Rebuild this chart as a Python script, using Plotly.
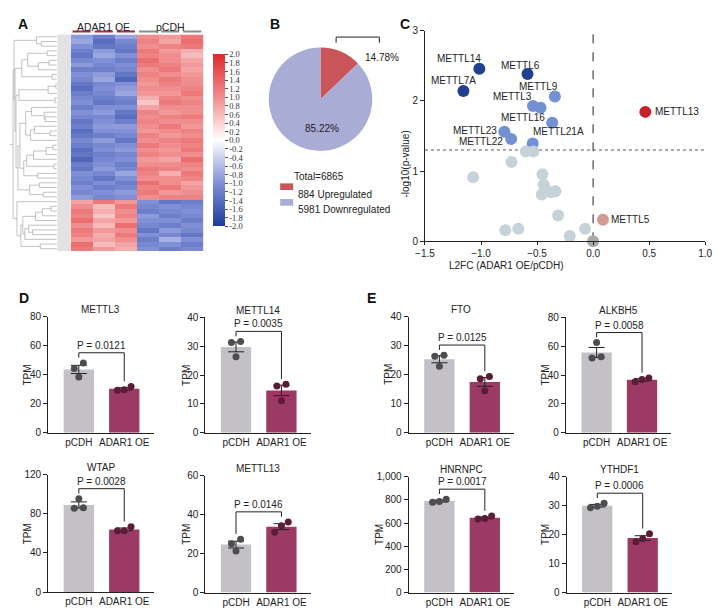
import numpy as np
import plotly.graph_objects as go

W, H = 720, 614
def px(x): return x / W
def py(y): return 1 - y / H

FONT = "Liberation Sans, Arial, sans-serif"
TXT = "#222222"

# ---------------- Panel A: heatmap data (z-scores) ----------------
heat_groups = ["ADAR1 OE", "pCDH"]
heat_up_block = [
    [-0.9, -1.2, -0.8, 1.0, 0.9, 1.2],
    [-0.8, -1.4, -1.1, 1.1, 0.8, 1.3],
    [-1.0, -1.3, -1.2, 1.0, 1.1, 1.2],
    [-1.2, -0.9, -1.3, 1.2, 0.9, 0.7],
    [-1.3, -0.8, -1.0, 1.1, 1.0, 0.6],
    [-1.1, -1.0, -1.2, 1.3, 1.0, 0.8],
    [-0.9, -1.1, -1.0, 1.2, 1.1, 0.9],
    [-1.2, -1.2, -1.1, 1.0, 1.2, 0.8],
    [-1.0, -0.9, -1.3, 1.1, 1.0, 0.9],
    [-1.1, -0.8, -1.5, 1.0, 1.2, 1.0],
    [-1.3, -1.1, -1.0, 0.9, 1.1, 1.0],
    [-1.4, -1.0, -0.9, 1.0, 1.0, 1.1],
    [-1.2, -1.1, -0.8, 0.9, 0.9, 1.2],
    [-1.1, -1.2, -1.1, 0.7, 1.1, 1.0],
    [-1.0, -1.3, -1.2, 0.5, 1.2, 1.1],
    [-1.2, -1.0, -1.0, 0.8, 1.0, 1.0],
    [-1.0, -0.9, -1.3, 1.1, 0.9, 1.0],
    [-1.1, -1.1, -1.4, 1.0, 1.1, 1.2],
    [-1.3, -1.0, -1.2, 1.1, 1.0, 1.0],
    [-1.2, -0.9, -0.9, 1.0, 1.2, 0.9],
    [-1.4, -1.0, -1.0, 0.9, 1.0, 1.1],
    [-1.3, -1.2, -1.1, 1.1, 0.9, 1.0],
    [-1.1, -0.9, -1.3, 1.0, 1.1, 1.2],
    [-1.2, -1.1, -1.0, 1.2, 1.0, 1.1],
    [-1.4, -1.0, -0.9, 1.0, 0.9, 1.2],
    [-1.3, -1.2, -1.1, 1.1, 1.0, 1.0],
    [-1.5, -1.1, -1.0, 0.9, 0.8, 1.3],
    [-1.2, -1.0, -1.2, 1.0, 1.0, 1.1],
    [-1.3, -0.9, -1.1, 1.2, 1.1, 1.0],
    [-1.0, -1.1, -0.8, 1.1, 0.7, 1.2],
    [-1.1, -1.3, -1.0, 1.0, 1.0, 1.1],
    [-1.2, -1.0, -1.2, 1.3, 1.0, 0.8],
    [-1.0, -1.2, -1.1, 1.1, 1.2, 0.9],
    [-1.1, -1.0, -0.9, 1.2, 0.9, 1.0],
    [-0.9, -1.1, -1.0, 1.0, 1.1, 1.1],
]
heat_down_block = [
    [0.8, 1.2, 0.9, -1.0, -1.3, -1.2],
    [1.0, 0.6, 1.2, -1.1, -1.0, -1.1],
    [1.2, 0.7, 1.0, -1.2, -1.1, -1.0],
    [1.1, 0.5, 1.1, -0.9, -1.2, -1.1],
    [1.3, 0.8, 0.9, -1.0, -1.0, -1.2],
    [1.0, 0.6, 1.3, -1.1, -1.2, -1.0],
    [1.2, 0.9, 1.0, -1.3, -0.9, -1.1],
    [1.1, 0.7, 1.2, -1.0, -1.1, -1.3],
    [0.9, 0.8, 1.0, -1.2, -0.7, -1.0],
    [1.3, 0.6, 0.8, -1.1, -1.0, -1.2],
    [1.2, 0.9, 0.7, -1.0, -1.2, -1.1],
]
cbar_tickvals = [2.0, 1.8, 1.6, 1.4, 1.2, 1.0, 0.8, 0.6, 0.4, 0.2, 0.0,
                 -0.2, -0.4, -0.6, -0.8, -1.0, -1.2, -1.4, -1.6, -1.8, -2.0]
cbar_ticktext = ["2.0", "1.8", "1.6", "1.4", "1.2", "1.0", "0.8", "0.6", "0.4", "0.2", "0.0",
                 "-0.2", "-0.4", "-0.6", "-0.8", "-1.0", "-1.2", "-1.4", "-1.6", "-1.8", "-2.0"]

# ---------------- Panel B: pie data ----------------
pie_labels = ["Upregulated", "Downregulated"]
pie_values = [884, 5981]
pie_pct_text = ["14.78%", "85.22%"]

# ---------------- Panel C: volcano data ----------------
volc_genes = ["METTL14", "METTL6", "METTL7A", "METTL9", "METTL3", "", "METTL16", "METTL23",
              "METTL22", "METTL21A", "", "", "", "", "", "", "", "", "", "", "", "", "", "", "",
              "METTL13", "METTL5"]
volc_l2fc = [-1.015, -0.585, -1.157, -0.341, -0.536, -0.469, -0.365, -0.792,
             -0.731, -0.539, -0.600, -0.533, -0.728, -1.070, -0.452, -0.440, -0.458,
             -0.376, -0.336, -0.312, -0.783, -0.667, -0.208, -0.071, 0.0,
             0.466, 0.088]
volc_nlogp = [2.456, 2.381, 2.140, 2.060, 1.926, 1.902, 1.688, 1.558,
              1.456, 1.391, 1.279, 1.279, 1.130, 0.912, 0.953, 0.805, 0.665,
              0.698, 0.712, 0.367, 0.158, 0.177, 0.074, 0.177, 0.0,
              1.842, 0.307]
volc_label_names = ["METTL14", "METTL6", "METTL7A", "METTL9", "METTL3", "METTL16",
                    "METTL23", "METTL22", "METTL21A", "METTL13", "METTL5"]
volc_label_x = [-1.195, -0.649, -1.247, -0.484, -0.722, -0.629, -1.056, -0.998, -0.310, 0.535, 0.146]
volc_label_y = [2.605, 2.502, 2.288, 2.209, 2.060, 1.767, 1.572, 1.419, 1.558, 1.842, 0.307]
volc_xticks = [-1.5, -1.0, -0.5, 0.0, 0.5, 1.0]
volc_yticks = [0, 1, 2, 3]
p_threshold = 1.3

# ---------------- Panels D/E: bar chart data (TPM) ----------------
bar_groups = ["pCDH", "ADAR1 OE"]
bar_genes = ["METTL3", "METTL14", "WTAP", "METTL13", "FTO", "ALKBH5", "HNRNPC", "YTHDF1"]
pcdh_tpm = [[48.1, 44.3, 38.4], [31.7, 31.3, 26.4], [95.5, 86.4, 85.8], [27.4, 25.1, 21.4],
            [26.7, 26.3, 22.9], [62.6, 52.8, 51.9], [805, 785, 778], [30.8, 29.3, 29.8]]
adar_tpm = [[31.9, 29.2, 29.6], [16.8, 16.2, 11.1], [67.0, 62.8, 62.8], [36.2, 34.3, 31.0],
            [19.4, 18.6, 14.5], [35.4, 38.1, 36.9], [660, 635, 640], [20.3, 18.6, 17.5]]
bar_pvals = ["0.0121", "0.0035", "0.0028", "0.0146", "0.0125", "0.0058", "0.0017", "0.0006"]
bar_ymax = [80, 40, 120, 60, 40, 80, 1000, 40]
bar_dtick = [20, 10, 40, 20, 10, 20, 200, 10]

# layout (pixel boxes) for bar subplots: x0, ytop, ybottom
bar_boxes = [(39, 316.7, 435.3), (200, 317.7, 435.3), (39, 478.3, 597.7), (200, 479, 598.3),
             (408.3, 316.7, 435.3), (569.3, 317.7, 435.3), (408.3, 480, 598.3), (570, 480, 598.3)]
bar_ytitle_x = [18.3, 180, 18.3, 180, 388.3, 548.3, 378.3, 548.3]
BAR_AX_W = 108

fig = go.Figure()
annotations = []
shapes = []
layout = {}

# ---------------- Panel A ----------------
heat_rows = heat_up_block + heat_down_block
Z = np.array(heat_rows, dtype=float)
nrow, ncol = Z.shape
colorscale = [[0.0, "#1d3b9c"], [0.25, "#8190d6"], [0.5, "#ffffff"], [0.75, "#f08d8e"], [1.0, "#e0282d"]]
fig.add_trace(go.Heatmap(
    z=Z, x=list(range(ncol)), y=list(range(nrow)), xaxis="x", yaxis="y",
    colorscale=colorscale, zmin=-2, zmax=2, hoverinfo="skip",
    colorbar=dict(x=px(208), xanchor="left", y=py(137), yanchor="middle",
                  lenmode="pixels", len=172, thicknessmode="pixels", thickness=12,
                  xpad=0, ypad=0, outlinewidth=0,
                  tickvals=cbar_tickvals, ticktext=cbar_ticktext,
                  ticks="outside", ticklen=3, tickcolor="#555",
                  tickfont=dict(family="Liberation Serif, Times New Roman, serif", size=8.5, color="#333"))))
layout["xaxis"] = dict(domain=[px(62), px(198)], range=[-0.5, ncol - 0.5], visible=False, anchor="y")
layout["yaxis"] = dict(domain=[py(250), py(29)], range=[nrow - 0.5, -0.5], visible=False, anchor="x")

# dendrogram via adjacency-constrained complete linkage (order-preserving)
clusters = [{"m": [i], "y": float(i), "h": 0.0} for i in range(nrow)]
segx, segy = [], []
step = 0
while len(clusters) > 1:
    best = None
    for i in range(len(clusters) - 1):
        a = Z[clusters[i]["m"]]
        b = Z[clusters[i + 1]["m"]]
        d = np.linalg.norm(a[:, None, :] - b[None, :, :], axis=2).max()
        if best is None or d < best[0]:
            best = (d, i)
    _, i = best
    step += 1
    A, B = clusters[i], clusters[i + 1]
    segx += [A["h"], step, step, B["h"], None]
    segy += [A["y"], A["y"], B["y"], B["y"], None]
    clusters[i:i + 2] = [{"m": A["m"] + B["m"], "y": (A["y"] + B["y"]) / 2, "h": float(step)}]
root = clusters[0]
segx += [root["h"], root["h"] * 1.07, None]
segy += [root["y"], root["y"], None]
fig.add_trace(go.Scatter(x=segx, y=segy, mode="lines", xaxis="x2", yaxis="y2",
                         line=dict(color="#a8a8a8", width=0.7), hoverinfo="skip"))
layout["xaxis2"] = dict(domain=[px(0), px(48)], range=[root["h"] * 1.07, 0], visible=False, anchor="y2")
layout["yaxis2"] = dict(domain=[py(250), py(29)], range=[nrow - 0.5, -0.5], visible=False, anchor="x2")
# row-label strip (tiny gene names)
shapes.append(dict(type="rect", xref="paper", yref="paper", x0=px(48.5), x1=px(61.5),
                   y0=py(250), y1=py(29), fillcolor="#e2e2e2", line=dict(width=0), layer="below"))

# group headers
for g, name in enumerate(heat_groups):
    cols = list(range(g * 3, g * 3 + 3))
    annotations.append(dict(x=float(np.mean(cols)), y=py(21), xref="x", yref="paper", text=name,
                            showarrow=False, font=dict(size=10.5, color=TXT), yanchor="middle"))
    for c in cols:
        shapes.append(dict(type="line", xref="x", yref="paper", x0=c - 0.41, x1=c + 0.41,
                           y0=py(26), y1=py(26),
                           line=dict(color="#9b2c52" if g == 0 else "#8c8c8c", width=2)))

# ---------------- Panel B ----------------
pie_colors = ["#c9555b", "#a9acd5"]
fig.add_trace(go.Pie(values=pie_values, labels=pie_labels, sort=False, direction="clockwise",
                     rotation=0, textinfo="none", marker=dict(colors=pie_colors, line=dict(width=0)),
                     domain=dict(x=[px(265), px(371)], y=[py(148), py(42)]),
                     showlegend=False, hoverinfo="label+value"))
annotations.append(dict(x=px(381), y=py(45), xref="paper", yref="paper", text=pie_pct_text[0],
                        showarrow=False, font=dict(size=10, color=TXT)))
annotations.append(dict(x=px(320), y=py(117), xref="paper", yref="paper", text=pie_pct_text[1],
                        showarrow=False, font=dict(size=10, color=TXT)))
shapes.append(dict(type="path", xref="paper", yref="paper",
                   path=f"M {px(334)} {py(37.5)} L {px(334)} {py(31.7)} L {px(378.3)} {py(31.7)} L {px(378.3)} {py(37.5)}",
                   line=dict(color=TXT, width=1)))
annotations.append(dict(x=px(316), y=py(166.7), xref="paper", yref="paper",
                        text=f"Total={sum(pie_values)}", showarrow=False, font=dict(size=10, color=TXT)))
for k, (lab, val) in enumerate(zip(pie_labels, pie_values)):
    yc = [184.3, 200.3][k]
    shapes.append(dict(type="rect", xref="paper", yref="paper", x0=px(276.7), x1=px(290),
                       y0=py(yc + 3.4), y1=py(yc - 3.4), fillcolor=pie_colors[k], line=dict(width=0)))
    annotations.append(dict(x=px(292.5), y=py(yc), xref="paper", yref="paper", text=f"{val} {lab}",
                            showarrow=False, xanchor="left", font=dict(size=10, color=TXT)))

# ---------------- Panel C ----------------
def volc_color(x, y):
    if x > 0:
        return "#c4212b" if y > p_threshold else "#d39a94"
    if x == 0:
        return "#a9a9a9"
    if y > 2.1:
        return "#233f8f"
    if y > p_threshold:
        return "#7391d2"
    return "#c5d3d9"

vcolors = [volc_color(x, y) for x, y in zip(volc_l2fc, volc_nlogp)]
shapes.append(dict(type="line", xref="x3", yref="y3", x0=0, x1=0, y0=0, y1=3,
                   line=dict(color="#222", width=1, dash="dash"), layer="below"))
shapes.append(dict(type="line", xref="x3", yref="y3", x0=-1.5, x1=1.0, y0=p_threshold, y1=p_threshold,
                   line=dict(color="#555", width=1, dash="dot"), layer="below"))
fig.add_trace(go.Scatter(x=volc_l2fc, y=volc_nlogp, text=volc_genes, mode="markers", xaxis="x3", yaxis="y3",
                         marker=dict(size=12, color=vcolors, line=dict(width=0)), cliponaxis=False,
                         hoverinfo="text+x+y"))
for name, lx, ly in zip(volc_label_names, volc_label_x, volc_label_y):
    left = lx > 0
    annotations.append(dict(x=lx, y=ly, xref="x3", yref="y3", text=name, showarrow=False,
                            xanchor="left" if left else "center", font=dict(size=10, color=TXT)))
axis_common = dict(showline=True, linecolor="#222", linewidth=1, ticks="outside", ticklen=4,
                   tickcolor="#222", tickwidth=1, showgrid=False, zeroline=False,
                   tickfont=dict(size=10, color=TXT, family=FONT))
volc_axis = dict(axis_common)
volc_axis["ticklen"] = 3
layout["xaxis3"] = dict(domain=[px(425), px(712)], range=[-1.5, 1.0], tickvals=volc_xticks,
                        tickformat=".1f", anchor="y3", **volc_axis)
layout["yaxis3"] = dict(domain=[py(240), py(25)], range=[0, 3], tickvals=volc_yticks,
                        anchor="x3", **axis_common)
annotations.append(dict(x=px(568), y=py(265), xref="paper", yref="paper", text="L2FC (ADAR1 OE/pCDH)",
                        showarrow=False, font=dict(size=10, color=TXT)))
annotations.append(dict(x=px(405), y=py(125), xref="paper", yref="paper", text="-log10(p-value)",
                        showarrow=False, textangle=-90, font=dict(size=10, color=TXT)))

# ---------------- Panels D/E ----------------
def jitter(vals, ymax):
    thr = 0.06 * ymax
    order = sorted(range(len(vals)), key=lambda i: vals[i])
    groups = [[order[0]]]
    for i in order[1:]:
        if vals[i] - vals[groups[-1][-1]] < thr:
            groups[-1].append(i)
        else:
            groups.append([i])
    offs = [0.0] * len(vals)
    for g in groups:
        if len(g) == 2:
            offs[g[0]], offs[g[1]] = -0.1, 0.1
        elif len(g) == 3:
            offs[g[0]], offs[g[1]], offs[g[2]] = -0.15, 0.0, 0.15
    return offs

bar_fill = ["#c3c0c6", "#9c3a66"]
dot_fill = ["#4d4d4d", "#5a1d36"]
for k in range(8):
    ax = k + 4
    xa, ya = f"x{ax}", f"y{ax}"
    x0, ytop, ybot = bar_boxes[k]
    groups_pts = [pcdh_tpm[k], adar_tpm[k]]
    means = [float(np.mean(v)) for v in groups_pts]
    sems = [float(np.std(v, ddof=1) / np.sqrt(len(v))) for v in groups_pts]
    fig.add_trace(go.Bar(x=[0, 1], y=means, width=0.667, xaxis=xa, yaxis=ya,
                         marker=dict(color=bar_fill, line=dict(width=0)),
                         error_y=dict(type="data", array=sems, color="#222", thickness=1, width=8),
                         hoverinfo="y"))
    for gi, pts in enumerate(groups_pts):
        offs = jitter(pts, bar_ymax[k])
        fig.add_trace(go.Scatter(x=[gi + o for o in offs], y=pts, mode="markers", xaxis=xa, yaxis=ya,
                                 marker=dict(size=7, color=dot_fill[gi], line=dict(width=0)),
                                 cliponaxis=False, hoverinfo="y"))
    ym = bar_ymax[k]
    tops = [max(max(groups_pts[g]), means[g] + sems[g]) for g in range(2)]
    yb = max(tops) + 0.087 * ym
    yl = tops[0] + 0.045 * ym
    yr = tops[1] + 0.045 * ym
    shapes.append(dict(type="path", xref=xa, yref=ya, path=f"M 0 {yl} L 0 {yb} L 1 {yb} L 1 {yr}",
                       line=dict(color="#222", width=1)))
    annotations.append(dict(x=0.5, y=yb, xref=xa, yref=ya, text=f"P = {bar_pvals[k]}", showarrow=False,
                            yanchor="bottom", yshift=0, font=dict(size=10, color=TXT)))
    annotations.append(dict(x=px(x0 + 0.5 * BAR_AX_W), y=py(ytop - 7.5), xref="paper", yref="paper",
                            text=bar_genes[k], showarrow=False, yanchor="middle", xanchor="center",
                            font=dict(size=10, color=TXT)))
    annotations.append(dict(x=px(bar_ytitle_x[k]), y=py((ytop + ybot) / 2), xref="paper", yref="paper",
                            text="TPM", showarrow=False, xanchor="center", yanchor="middle",
                            textangle=-90, font=dict(size=10, color=TXT)))
    layout[f"xaxis{ax}"] = dict(domain=[px(x0), px(x0 + BAR_AX_W)], range=[-0.677, 1.645],
                                tickvals=[0, 1], ticktext=bar_groups, anchor=ya, showline=True,
                                linecolor="#222", linewidth=1, ticks="", showgrid=False, zeroline=False,
                                tickfont=dict(size=10, color=TXT, family=FONT))
    layout[f"yaxis{ax}"] = dict(domain=[py(ybot), py(ytop)], range=[0, ym], dtick=bar_dtick[k],
                                tickformat=",", anchor=xa, **axis_common)

# panel letters
for letter, (lx, ly) in zip("ABCDE", [(6, 8.5), (271, 8.5), (405, 8.5), (7, 298), (370, 298)]):
    annotations.append(dict(x=px(lx), y=py(ly), xref="paper", yref="paper", text=f"<b>{letter}</b>",
                            showarrow=False, font=dict(size=14, color="#111", family=FONT)))

fig.update_layout(width=W, height=H, margin=dict(l=0, r=0, t=0, b=0),
                  paper_bgcolor="white", plot_bgcolor="white", showlegend=False,
                  font=dict(family=FONT, size=10, color=TXT),
                  annotations=annotations, shapes=shapes, **layout)
fig.write_html("out.html")
